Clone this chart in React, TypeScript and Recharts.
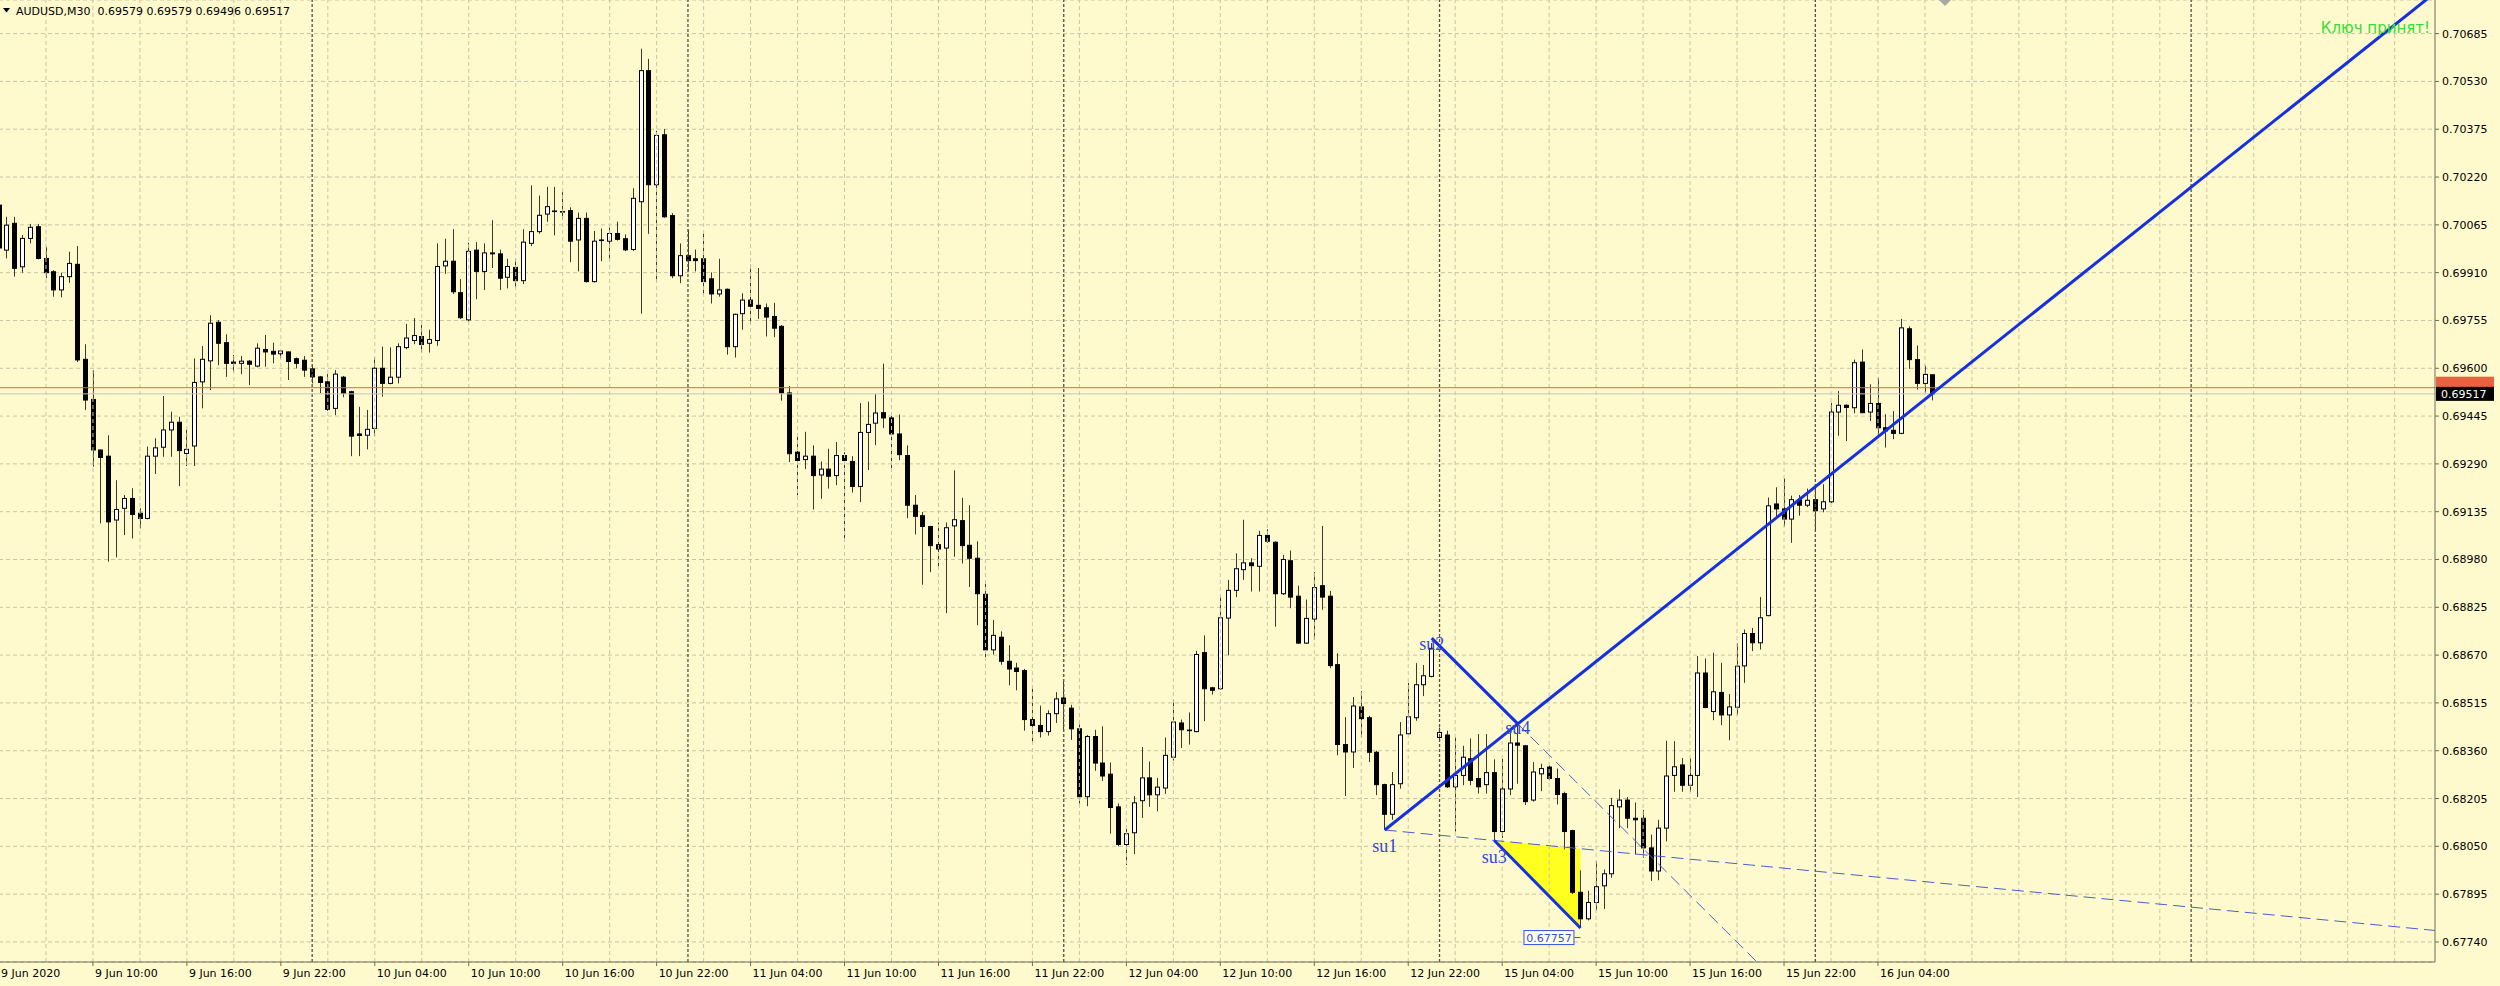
import {
  Area,
  Bar,
  CartesianGrid,
  ComposedChart,
  ReferenceDot,
  ReferenceLine,
  XAxis,
  YAxis,
} from "recharts";

// AUDUSD M30, bar 0 = 9 Jun 2020 04:00
const opens = [
  0.70129, 0.69983, 0.7007, 0.69929, 0.70021, 0.70059, 0.69956, 0.69913, 0.69854, 0.69897, 0.69937, 0.69629,
  0.69499, 0.69335, 0.69315, 0.69108, 0.69146, 0.69178, 0.6913, 0.69113, 0.69315, 0.69344, 0.694, 0.69425,
  0.69324, 0.69348, 0.69556, 0.69624, 0.69749, 0.69683, 0.6962, 0.69616, 0.69623, 0.69607, 0.69661, 0.69655,
  0.69647, 0.69653, 0.69631, 0.69626, 0.69598, 0.69572, 0.69556, 0.6947, 0.69571, 0.69524, 0.69387, 0.69383,
  0.69405, 0.696, 0.69551, 0.69571, 0.69667, 0.6969, 0.69703, 0.69681, 0.6969, 0.69932, 0.69947, 0.69845,
  0.69757, 0.69983, 0.69914, 0.69974, 0.69971, 0.69895, 0.69927, 0.69884, 0.70005, 0.70043, 0.701, 0.7011,
  0.70108, 0.70111, 0.70016, 0.70086, 0.69881, 0.70016, 0.70012, 0.70037, 0.7002, 0.69985, 0.7014, 0.70565,
  0.70195, 0.70357, 0.70095, 0.699, 0.69965, 0.69955, 0.69955, 0.6989, 0.69841, 0.69856, 0.6967, 0.69777,
  0.69821, 0.69804, 0.69796, 0.69768, 0.69736, 0.6952, 0.69328, 0.69304, 0.69315, 0.69254, 0.69273, 0.69252,
  0.69317, 0.69298, 0.69217, 0.69392, 0.69422, 0.69456, 0.69439, 0.69387, 0.69317, 0.69156, 0.69122, 0.69087,
  0.69028, 0.69017, 0.69089, 0.69106, 0.69026, 0.68984, 0.68867, 0.68687, 0.68728, 0.6865, 0.68628, 0.6862,
  0.68461, 0.68442, 0.68422, 0.6848, 0.68531, 0.68498, 0.68431, 0.68211, 0.68406, 0.6832, 0.68284, 0.68178,
  0.68056, 0.68094, 0.68198, 0.68272, 0.68217, 0.68239, 0.68339, 0.6845, 0.68427, 0.68422, 0.68678, 0.68564,
  0.68561, 0.6879, 0.6888, 0.68947, 0.68969, 0.68958, 0.69058, 0.69036, 0.68869, 0.68976, 0.68861, 0.68709,
  0.68787, 0.68895, 0.68861, 0.68639, 0.6838, 0.68356, 0.68502, 0.68467, 0.68355, 0.6825, 0.68154, 0.68253,
  0.68415, 0.68467, 0.68574, 0.68601, 0.68403, 0.68411, 0.68243, 0.6828, 0.68334, 0.6827, 0.6825, 0.68289,
  0.68098, 0.68236, 0.68385, 0.68376, 0.682, 0.68285, 0.68307, 0.6827, 0.68221, 0.68101, 0.67901, 0.67815,
  0.67868, 0.67922, 0.67961, 0.68178, 0.682, 0.68141, 0.68141, 0.68045, 0.6797, 0.68109, 0.6828, 0.68314,
  0.68248, 0.6828, 0.68612, 0.68487, 0.68549, 0.68476, 0.68501, 0.68635, 0.6874, 0.6871, 0.68798, 0.6916,
  0.69144, 0.69111, 0.69174, 0.69156, 0.69174, 0.69144, 0.69167, 0.69458, 0.6948, 0.69472, 0.6962, 0.69458,
  0.69486, 0.69407, 0.69399, 0.69389, 0.69728, 0.69628, 0.69551, 0.69579,
];

const highs = [
  0.70168, 0.70091, 0.70091, 0.70032, 0.70068, 0.70068, 0.69994, 0.69918, 0.6991, 0.69978, 0.69996, 0.69678,
  0.69594, 0.69337, 0.69383, 0.69237, 0.69189, 0.69211, 0.69146, 0.69346, 0.69373, 0.6951, 0.69459, 0.69443,
  0.694, 0.69632, 0.69672, 0.69772, 0.69756, 0.6971, 0.69643, 0.6964, 0.69627, 0.69681, 0.69708, 0.69683,
  0.69659, 0.69654, 0.69635, 0.6964, 0.6961, 0.69575, 0.69581, 0.69594, 0.69575, 0.69527, 0.69475, 0.69465,
  0.69635, 0.6967, 0.69668, 0.69681, 0.69744, 0.69763, 0.69741, 0.69725, 0.70005, 0.7002, 0.70051, 0.69889,
  0.70007, 0.70009, 0.70005, 0.7008, 0.69985, 0.69955, 0.69955, 0.70051, 0.70193, 0.7016, 0.70188, 0.70188,
  0.70171, 0.70122, 0.70105, 0.70105, 0.70045, 0.70053, 0.70056, 0.70075, 0.70034, 0.70184, 0.70636, 0.70603,
  0.7037, 0.70376, 0.70103, 0.70005, 0.70049, 0.69985, 0.70036, 0.69911, 0.69955, 0.69859, 0.69777, 0.69843,
  0.69936, 0.69925, 0.6981, 0.69812, 0.6974, 0.69542, 0.69378, 0.69394, 0.6935, 0.69298, 0.69339, 0.69361,
  0.69328, 0.69315, 0.69487, 0.69492, 0.69516, 0.69615, 0.6945, 0.6945, 0.6935, 0.69189, 0.69134, 0.69089,
  0.691, 0.691, 0.69269, 0.6918, 0.69156, 0.69039, 0.68906, 0.68784, 0.68747, 0.68702, 0.68645, 0.68625,
  0.68567, 0.68506, 0.68491, 0.6855, 0.68583, 0.68509, 0.68445, 0.68411, 0.68428, 0.68439, 0.68322, 0.68189,
  0.68106, 0.68213, 0.68372, 0.68325, 0.68272, 0.68403, 0.68525, 0.68461, 0.68484, 0.68684, 0.68734, 0.68567,
  0.68861, 0.68914, 0.69, 0.69109, 0.68984, 0.69073, 0.69078, 0.69039, 0.68995, 0.69009, 0.68895, 0.6885,
  0.68939, 0.69089, 0.68878, 0.68676, 0.68469, 0.68534, 0.68553, 0.68473, 0.6836, 0.68253, 0.68291, 0.68453,
  0.6858, 0.68644, 0.68638, 0.68709, 0.68435, 0.68425, 0.68403, 0.68376, 0.684, 0.68414, 0.68414, 0.68332,
  0.68334, 0.68425, 0.68443, 0.68379, 0.68323, 0.68318, 0.68312, 0.68302, 0.68227, 0.68104, 0.67972, 0.67906,
  0.68002, 0.67975, 0.68207, 0.68235, 0.6821, 0.68192, 0.68168, 0.68088, 0.68136, 0.68392, 0.68391, 0.68336,
  0.68336, 0.68667, 0.68659, 0.68678, 0.68645, 0.68544, 0.68709, 0.68753, 0.68758, 0.68858, 0.69181, 0.69214,
  0.69243, 0.69187, 0.69189, 0.6921, 0.69221, 0.69224, 0.69488, 0.69526, 0.69483, 0.69628, 0.69661, 0.69548,
  0.69569, 0.69451, 0.69461, 0.6976, 0.69736, 0.69674, 0.69609, 0.69579,
];

const lows = [
  0.69983, 0.69956, 0.69897, 0.6991, 0.70005, 0.69953, 0.69892, 0.69832, 0.6983, 0.69877, 0.6962, 0.69465,
  0.69281, 0.69097, 0.68973, 0.68987, 0.69059, 0.69048, 0.69081, 0.6911, 0.69257, 0.69313, 0.69313, 0.69218,
  0.69283, 0.69283, 0.6947, 0.69529, 0.6961, 0.69572, 0.69589, 0.69581, 0.69546, 0.69603, 0.69605, 0.69616,
  0.69632, 0.69562, 0.696, 0.69572, 0.69551, 0.69519, 0.69462, 0.69448, 0.69506, 0.69315, 0.69315, 0.69337,
  0.6938, 0.69508, 0.69548, 0.69551, 0.69662, 0.69678, 0.69651, 0.69651, 0.69673, 0.69906, 0.69841, 0.6976,
  0.6975, 0.69824, 0.69854, 0.69925, 0.69854, 0.69859, 0.69862, 0.69873, 0.69996, 0.70036, 0.70075, 0.70031,
  0.70081, 0.69944, 0.69914, 0.69878, 0.69878, 0.69947, 0.6995, 0.70014, 0.6998, 0.6998, 0.69777, 0.70036,
  0.69881, 0.70088, 0.69892, 0.69876, 0.69914, 0.69914, 0.69843, 0.6981, 0.69832, 0.69644, 0.69635, 0.69725,
  0.69742, 0.6976, 0.69703, 0.69701, 0.69495, 0.69296, 0.69188, 0.69273, 0.69142, 0.69177, 0.6921, 0.69221,
  0.69049, 0.69197, 0.69166, 0.6927, 0.69351, 0.69406, 0.69267, 0.69302, 0.69114, 0.69061, 0.68898, 0.68939,
  0.68958, 0.68806, 0.68989, 0.68967, 0.68891, 0.68767, 0.68664, 0.68672, 0.68639, 0.68572, 0.68556, 0.68425,
  0.68387, 0.68403, 0.68409, 0.6845, 0.68428, 0.68395, 0.68189, 0.6818, 0.68295, 0.68262, 0.68091, 0.6805,
  0.67989, 0.68025, 0.68142, 0.68178, 0.68164, 0.6822, 0.68328, 0.68369, 0.6838, 0.6842, 0.68456, 0.68542,
  0.68558, 0.68669, 0.68858, 0.68914, 0.68876, 0.68876, 0.69034, 0.68762, 0.68865, 0.68822, 0.68706, 0.68706,
  0.6872, 0.68817, 0.68628, 0.68345, 0.68213, 0.68304, 0.68403, 0.68323, 0.68216, 0.68103, 0.68136, 0.68237,
  0.68411, 0.68457, 0.68537, 0.68598, 0.68398, 0.68239, 0.68098, 0.68248, 0.68248, 0.68221, 0.68221, 0.68064,
  0.68077, 0.68216, 0.68253, 0.68184, 0.68195, 0.68229, 0.68264, 0.68186, 0.6804, 0.67895, 0.67785, 0.6781,
  0.67842, 0.67847, 0.67948, 0.68109, 0.68109, 0.68023, 0.68013, 0.67938, 0.6794, 0.68066, 0.68227, 0.68227,
  0.68227, 0.6821, 0.68498, 0.68459, 0.68443, 0.68394, 0.68476, 0.6858, 0.68683, 0.68688, 0.68796, 0.69117,
  0.69087, 0.69034, 0.69122, 0.6915, 0.69073, 0.69133, 0.69163, 0.69381, 0.69364, 0.69454, 0.69454, 0.69429,
  0.69381, 0.69343, 0.6937, 0.69386, 0.69598, 0.69531, 0.69521, 0.69496,
];

const closes = [
  0.6999, 0.70064, 0.69924, 0.70021, 0.70057, 0.69956, 0.6991, 0.69854, 0.69897, 0.6994, 0.69627, 0.69497,
  0.69335, 0.69311, 0.69102, 0.69142, 0.69178, 0.69126, 0.69113, 0.69315, 0.69342, 0.694, 0.69425, 0.69333,
  0.69337, 0.69554, 0.69629, 0.69746, 0.69681, 0.69616, 0.69616, 0.69623, 0.69613, 0.69665, 0.69653, 0.69646,
  0.69656, 0.69622, 0.69616, 0.69594, 0.69572, 0.69554, 0.69467, 0.69581, 0.69519, 0.6938, 0.69382, 0.69402,
  0.696, 0.69551, 0.69571, 0.6967, 0.69698, 0.69706, 0.69677, 0.69693, 0.6993, 0.69947, 0.69848, 0.69764,
  0.69979, 0.69914, 0.69974, 0.69971, 0.69892, 0.6993, 0.69884, 0.70009, 0.70043, 0.70096, 0.70124, 0.70108,
  0.70107, 0.70012, 0.70086, 0.69881, 0.70012, 0.70014, 0.70037, 0.70018, 0.69984, 0.70151, 0.70565, 0.70195,
  0.70355, 0.70091, 0.699, 0.69965, 0.69949, 0.69949, 0.69881, 0.69841, 0.69854, 0.6967, 0.69775, 0.69821,
  0.69801, 0.69794, 0.69766, 0.6973, 0.6952, 0.69323, 0.69301, 0.69315, 0.69252, 0.69273, 0.6925, 0.69317,
  0.69301, 0.69217, 0.69392, 0.69418, 0.69455, 0.69439, 0.69387, 0.6932, 0.69156, 0.6912, 0.69087, 0.69025,
  0.69014, 0.69083, 0.69109, 0.69025, 0.68984, 0.68869, 0.68687, 0.68734, 0.6865, 0.68625, 0.68617, 0.68461,
  0.68442, 0.68422, 0.6848, 0.68528, 0.68513, 0.68431, 0.68211, 0.68406, 0.6832, 0.68278, 0.68176, 0.68056,
  0.68091, 0.68191, 0.68272, 0.68217, 0.68242, 0.68345, 0.68453, 0.68428, 0.68425, 0.68672, 0.68561, 0.68556,
  0.68791, 0.6888, 0.6895, 0.68969, 0.6896, 0.69058, 0.69039, 0.68869, 0.6898, 0.68858, 0.68709, 0.68789,
  0.68889, 0.68858, 0.68636, 0.6838, 0.68356, 0.68505, 0.68464, 0.68355, 0.6825, 0.68154, 0.6825, 0.68411,
  0.6847, 0.68574, 0.68603, 0.68692, 0.68419, 0.68243, 0.6828, 0.68339, 0.68264, 0.68243, 0.68289, 0.68098,
  0.68236, 0.68385, 0.68378, 0.68195, 0.68291, 0.68302, 0.6827, 0.68218, 0.68098, 0.67901, 0.67815, 0.67868,
  0.67919, 0.67961, 0.68182, 0.682, 0.68141, 0.68136, 0.68045, 0.6797, 0.68109, 0.68278, 0.68308, 0.68248,
  0.6828, 0.68612, 0.685, 0.68551, 0.68476, 0.68502, 0.68634, 0.6874, 0.6871, 0.68791, 0.69154, 0.69144,
  0.69111, 0.69174, 0.69156, 0.69172, 0.69138, 0.69167, 0.69458, 0.6948, 0.69473, 0.69618, 0.69456, 0.69486,
  0.69407, 0.69397, 0.69389, 0.69731, 0.69628, 0.69551, 0.6958, 0.69517,
];

const yTicks = [
  0.6774, 0.67895, 0.6805, 0.68205, 0.6836, 0.68515, 0.6867, 0.68825, 0.6898, 0.69135,
  0.6929, 0.69445, 0.696, 0.69755, 0.6991, 0.70065, 0.7022, 0.70375, 0.7053, 0.70685,
];

const xTickBars = [0, 12, 24, 36, 48, 60, 72, 84, 96, 108, 120, 132, 144, 156, 168, 180, 192, 204, 216, 228, 240];
const xTickLabels = [
  "9 Jun 2020", "9 Jun 10:00", "9 Jun 16:00", "9 Jun 22:00", "10 Jun 04:00", "10 Jun 10:00",
  "10 Jun 16:00", "10 Jun 22:00", "11 Jun 04:00", "11 Jun 10:00", "11 Jun 16:00", "11 Jun 22:00",
  "12 Jun 04:00", "12 Jun 10:00", "12 Jun 16:00", "12 Jun 22:00", "15 Jun 04:00", "15 Jun 10:00",
  "15 Jun 16:00", "15 Jun 22:00", "16 Jun 04:00",
];

// day starts (10, 11, 12, 15, 16, 17 Jun)
const dayStartBars = [40, 88, 136, 184, 232, 280];

// pattern points
const pivotNames = ["su1", "su2", "su3", "su4"];
const pivotBars = [177, 183, 191, 194];
const pivotPrices = [0.68103, 0.68725, 0.68069, 0.68447];
const pivotTextDy = [22, 12, 23, 10];
const lowBar = 202;
const lowPrice = 0.67785;
const lowText = "0.67757";

const bidPrice = 0.69517;
const askPrice = 0.69537;

const X_MIN = 0;
const X_MAX = 311.15;
const Y_MIN = 0.67675;
const Y_MAX = 0.70794;

const BG = "#fffacd";
const AXIS = "#6e6a58";
const GRID = "#c9c4a6";
const BLUE = "#1530e0";
const THIN = "#4a5fd0";
const FONT = "DejaVu Sans";

const pts = pivotBars.map((b, k) => ({ x: b, y: pivotPrices[k] }));
const [su1, su2, su3, su4] = pts;
const lowPt = { x: lowBar, y: lowPrice };
const lineAt = (a: { x: number; y: number }, b: { x: number; y: number }, x: number) =>
  a.y + ((b.y - a.y) * (x - a.x)) / (b.x - a.x);

const rows: any[] = opens.map((open, i) => ({
  i,
  open,
  high: highs[i],
  low: lows[i],
  close: closes[i],
}));
rows[su3.x].tri = [su3.y, su3.y];
rows[lowBar].tri = [lowPrice, lineAt(su1, su3, lowBar)];

const gridBars: number[] = [];
for (let b = 6; b < X_MAX; b += 6) gridBars.push(b);

const Candle = (props: any) => {
  const { x, y, width, height, payload } = props;
  if (x == null || y == null || !payload) return null;
  const { open, close, high, low } = payload;
  const top = Math.min(y, y + height);
  const h = Math.abs(height);
  const k = high > low ? h / (high - low) : 0;
  const yo = top + (high - open) * k;
  const yc = top + (high - close) * k;
  const cx = Math.round(x + width / 2) + 0.5;
  const bTop = Math.min(yo, yc);
  const bH = Math.max(Math.abs(yc - yo), 0.5);
  const bull = close >= open;
  return (
    <g>
      <line x1={cx} x2={cx} y1={top} y2={top + h} stroke="#3a3a2e" strokeWidth={1} />
      <rect x={cx - 2} y={bTop} width={4} height={bH} fill={bull ? "#ffffff" : "#000000"} stroke="#000000" strokeWidth={1} />
    </g>
  );
};

const XTick = (p: any) => {
  const { x, y, payload } = p;
  const idx = xTickBars.indexOf(payload.value);
  return (
    <g>
      <line x1={x} x2={x} y1={y} y2={y + 4} stroke={AXIS} />
      <text x={x + 2} y={y + 15} fontFamily={FONT} fontSize={11} fill="#000">
        {idx >= 0 ? xTickLabels[idx] : ""}
      </text>
    </g>
  );
};

const YTick = (p: any) => {
  const { x, y, payload } = p;
  return (
    <g>
      <line x1={x} x2={x + 4} y1={y} y2={y} stroke={AXIS} />
      <text x={x + 7} y={y + 4} fontFamily={FONT} fontSize={11} fill="#000">
        {Number(payload.value).toFixed(5)}
      </text>
    </g>
  );
};

const pivotLabel = (text: string, dy: number) => (p: any) => {
  const vb = p.viewBox || {};
  return (
    <text
      x={vb.x + (vb.width || 0) / 2}
      y={vb.y + (vb.height || 0) / 2 + dy}
      textAnchor="middle"
      fontFamily="Liberation Serif"
      fontSize={18}
      fill="#2f4ad8"
    >
      {text}
    </text>
  );
};

const lowLabel = (p: any) => {
  const vb = p.viewBox || {};
  const cx = vb.x + (vb.width || 0) / 2;
  const cy = vb.y + (vb.height || 0) / 2;
  return (
    <g>
      <line x1={cx - 6} x2={cx} y1={cy + 9.5} y2={cy + 9.5} stroke="#3350dd" />
      <rect x={cx - 56.5} y={cy + 2.5} width={50} height={14} fill="#fffde6" stroke="#3350dd" />
      <text x={cx - 31.5} y={cy + 13.5} textAnchor="middle" fontFamily={FONT} fontSize={11} fill="#3350dd">
        {lowText}
      </text>
    </g>
  );
};

// price tag on the right scale; the ask tag sits under the bid tag, only its edge shows
const priceTag = (text: string, bg: string, shift: number) => (p: any) => {
  const vb = p.viewBox || {};
  const right = vb.x + (vb.width || 0);
  const ly = vb.y + (vb.height || 0) / 2 + shift;
  return (
    <g>
      <rect x={right + 1} y={ly - 7} width={58} height={14} fill={bg} />
      {text ? (
        <text x={right + 6} y={ly + 4} fontFamily={FONT} fontSize={11} fill="#ffffff">
          {text}
        </text>
      ) : null}
    </g>
  );
};

export default function App() {
  const rayEnd = { x: X_MAX, y: lineAt(su1, su4, X_MAX) };
  const baseEnd = { x: X_MAX, y: lineAt(su1, su3, X_MAX) };
  const su4End = { x: 240, y: lineAt(su2, su4, 240) };

  return (
    <div style={{ position: "absolute", left: -1, top: 0, width: 2501, height: 986, background: BG }}>
      <ComposedChart width={2501} height={986} data={rows} margin={{ top: 0, right: 0, bottom: 0, left: 0 }}>
        <CartesianGrid vertical={false} stroke={GRID} strokeDasharray="4 3" />
        {gridBars.map((b) => (
          <ReferenceLine key={"g" + b} x={b} stroke={GRID} strokeDasharray="4 3" />
        ))}
        {dayStartBars.map((b) => (
          <ReferenceLine key={"d" + b} x={b} stroke="#55523f" strokeWidth={1.3} strokeDasharray="3 2" />
        ))}
        <XAxis
          dataKey="i"
          type="number"
          domain={[X_MIN, X_MAX]}
          allowDataOverflow
          ticks={xTickBars}
          interval={0}
          height={24}
          tickSize={0}
          tickMargin={0}
          tickLine={false}
          axisLine={{ stroke: AXIS }}
          tick={XTick}
        />
        <YAxis
          orientation="right"
          type="number"
          domain={[Y_MIN, Y_MAX]}
          allowDataOverflow
          ticks={yTicks}
          interval={0}
          width={65}
          tickSize={0}
          tickMargin={0}
          tickLine={false}
          axisLine={{ stroke: AXIS }}
          tick={YTick}
        />
        <Area
          dataKey="tri"
          type="linear"
          connectNulls
          fill="#ffff20"
          fillOpacity={1}
          stroke="none"
          dot={false}
          activeDot={false}
          isAnimationActive={false}
        />
        <Bar
          dataKey={(d: any) => [d.low, d.high]}
          barSize={5}
          shape={Candle}
          isAnimationActive={false}
        />
        <ReferenceLine y={askPrice} stroke="#e8623e" label={{ content: priceTag("", "#e8623e", -4) }} />
        <ReferenceLine y={bidPrice} stroke="#c4c4bc" label={{ content: priceTag(bidPrice.toFixed(5), "#000000", 0) }} />
        <ReferenceLine segment={[su1, baseEnd]} stroke={THIN} strokeWidth={1} strokeDasharray="12 6" ifOverflow="hidden" />
        <ReferenceLine segment={[su4, su4End]} stroke={THIN} strokeWidth={1} strokeDasharray="12 6" ifOverflow="hidden" />
        <ReferenceLine segment={[su1, rayEnd]} stroke={BLUE} strokeWidth={3} ifOverflow="hidden" />
        <ReferenceLine segment={[su2, su4]} stroke={BLUE} strokeWidth={3} ifOverflow="hidden" />
        <ReferenceLine segment={[su3, lowPt]} stroke={BLUE} strokeWidth={3} ifOverflow="hidden" />
        {pts.map((pt, k) => (
          <ReferenceDot
            key={pivotNames[k]}
            x={pt.x}
            y={pt.y}
            r={0}
            fill="none"
            stroke="none"
            label={{ content: pivotLabel(pivotNames[k], pivotTextDy[k]) }}
          />
        ))}
        <ReferenceDot x={lowBar} y={lowPrice} r={0} fill="none" stroke="none" label={{ content: lowLabel }} />
      </ComposedChart>
      <svg width={2501} height={986} style={{ position: "absolute", left: 0, top: 0, pointerEvents: "none" }}>
        <polygon points="4,8 11,8 7.5,12.5" fill="#000" />
        <text x={17} y={15} fontFamily={FONT} fontSize={11} fill="#000" xmlSpace="preserve">
          AUDUSD,M30  0.69579 0.69579 0.69496 0.69517
        </text>
        <text x={2431} y={33} textAnchor="end" fontFamily={FONT} fontSize={15} fill="#33dd33">
          Ключ принят!
        </text>
        <polygon points="1940,0 1952,0 1946,6" fill="#a8a8a0" />
      </svg>
    </div>
  );
}
